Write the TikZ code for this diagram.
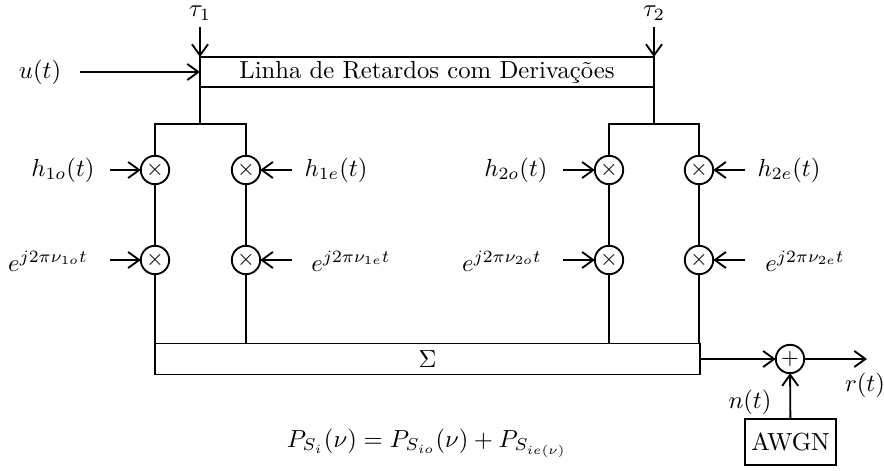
\documentclass[tikz,border=0pt]{standalone}
\usepackage{fontspec}
\usetikzlibrary{arrows.meta}
\begin{document}
\begin{tikzpicture}[x=0.405pt,y=-0.405pt, line width=0.75pt,
  arr/.style={-{Straight Barb[length=4.5pt,width=6.5pt]}},
  mult/.style={circle,draw,minimum size=11.5pt,inner sep=0pt,outer sep=0pt,font=\small},
  blk/.style={draw,rectangle,inner sep=0pt,outer sep=0pt}]
\useasboundingbox (0,0) rectangle (884,471);
% delay line
\node[blk,minimum width=183.9pt,minimum height=12.2pt] (D) at (427,72) {Linha de Retardos com Derivações};
\node (tau1) at (200,13) {$\tau_1$};
\node (tau2) at (654,13) {$\tau_2$};
\coordinate (t1s) at (200,27);
\coordinate (t2s) at (654,27);
\draw[arr] (t1s) -- (t1s |- D.north);
\draw[arr] (t2s) -- (t2s |- D.north);
\node (u) at (40,72) {$u(t)$};
\coordinate (us) at (80,72);
\draw[arr] (us) -- (D.west);
% multipliers
\node[mult] (m1o) at (155,170) {$\times$};
\node[mult] (m1e) at (246,170) {$\times$};
\node[mult] (m2o) at (609,170) {$\times$};
\node[mult] (m2e) at (699,170) {$\times$};
\node[mult] (n1o) at (155,260) {$\times$};
\node[mult] (n1e) at (246,260) {$\times$};
\node[mult] (n2o) at (609,260) {$\times$};
\node[mult] (n2e) at (699,260) {$\times$};
% taps
\coordinate (b1) at (200,124);
\coordinate (b2) at (654,124);
\draw (b1 |- D.south) -- (b1);
\draw (b2 |- D.south) -- (b2);
\draw (m1o) |- (b1) -| (m1e);
\draw (m2o) |- (b2) -| (m2e);
\draw (m1o) -- (n1o);
\draw (m1e) -- (n1e);
\draw (m2o) -- (n2o);
\draw (m2e) -- (n2e);
% labels and inputs
\node (h1o) at (63,170) {$h_{1o}(t)$};
\node (h1e) at (336,170) {$h_{1e}(t)$};
\node (h2o) at (516,170) {$h_{2o}(t)$};
\node (h2e) at (789,170) {$h_{2e}(t)$};
\node (e1o) at (48,261) {$e^{j2\pi\nu_{1o}t}$};
\node (e1e) at (351,261) {$e^{j2\pi\nu_{1e}t}$};
\node (e2o) at (502,261) {$e^{j2\pi\nu_{2o}t}$};
\node (e2e) at (805,261) {$e^{j2\pi\nu_{2e}t}$};
\coordinate (sh1o) at (110,170);
\coordinate (sh1e) at (292,170);
\coordinate (sh2o) at (563,170);
\coordinate (sh2e) at (745,170);
\coordinate (se1o) at (110,260);
\coordinate (se1e) at (292,260);
\coordinate (se2o) at (563,260);
\coordinate (se2e) at (745,260);
\draw[arr] (sh1o) -- (m1o);
\draw[arr] (sh1e) -- (m1e);
\draw[arr] (sh2o) -- (m2o);
\draw[arr] (sh2e) -- (m2e);
\draw[arr] (se1o) -- (n1o);
\draw[arr] (se1e) -- (n1e);
\draw[arr] (se2o) -- (n2o);
\draw[arr] (se2e) -- (n2e);
% sum
\node[blk,minimum width=220.7pt,minimum height=12.6pt] (S) at (427.5,359) {$\Sigma$};
\draw (n1o) -- (n1o |- S.north);
\draw (n1e) -- (n1e |- S.north);
\draw (n2o) -- (n2o |- S.north);
\draw (n2e) -- (n2e |- S.north);
% noise
\node[mult] (add) at (790,359) {$+$};
\draw[arr] (S.east) -- (add);
\coordinate (rend) at (867,359);
\draw[arr] (add) -- (rend);
\node (r) at (865,385) {$r(t)$};
\node[blk,minimum width=36.9pt,minimum height=18.6pt] (awgn) at (790.5,442) {AWGN};
\draw[arr] (awgn) -- (add);
\node (n) at (750,402) {$n(t)$};
% formula
\node (P) at (427,443) {$P_{S_i}(\nu) = P_{S_{io}}(\nu) + P_{S_{ie(\nu)}}$};
\end{tikzpicture}
\end{document}
